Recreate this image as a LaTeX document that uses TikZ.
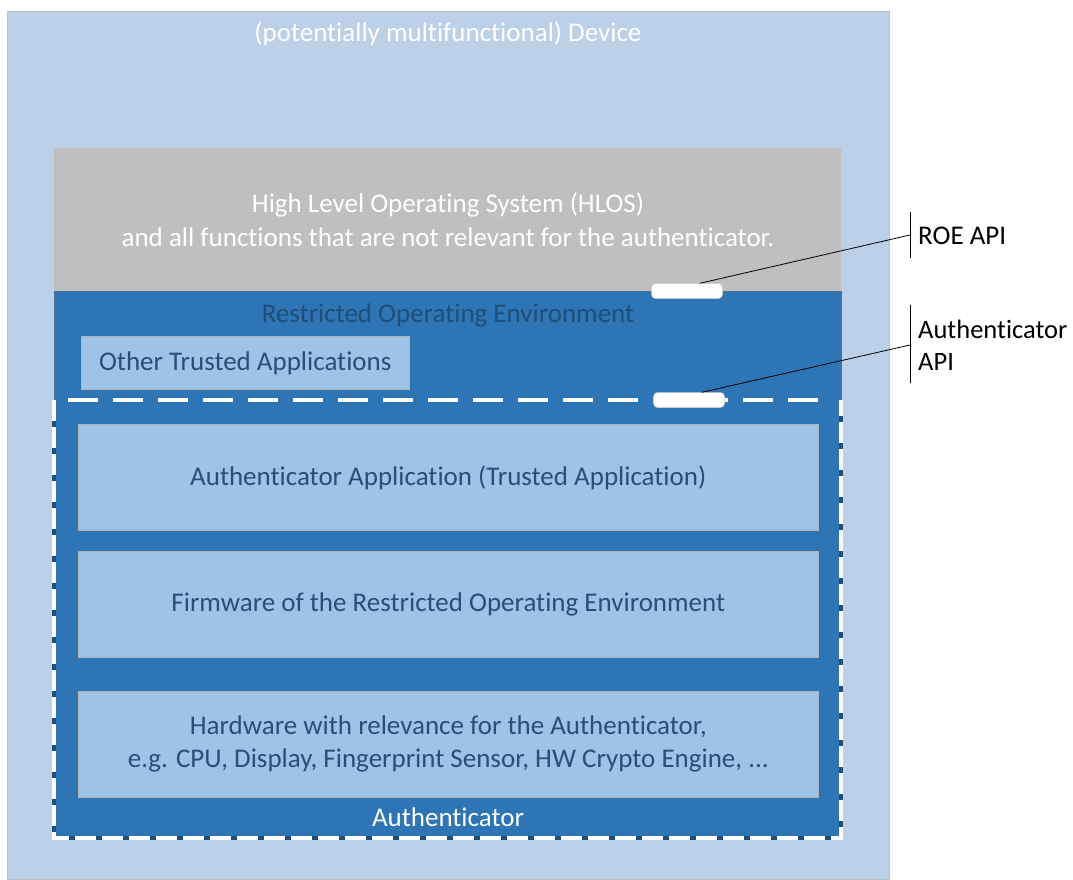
\documentclass[tikz,border=0pt]{standalone}
\usepackage{fontspec}
\setmainfont{Carlito}[Ligatures=NoCommon]
\definecolor{devblue}{HTML}{BCD0E8}
\definecolor{hlosgray}{HTML}{BFBFBF}
\definecolor{roeblue}{HTML}{2E75B6}
\definecolor{boxblue}{HTML}{9DC3E6}
\definecolor{boxtext}{HTML}{2B4C7C}
\definecolor{roetext}{HTML}{1F4E79}
\definecolor{navy}{HTML}{1F4E79}
\begin{document}
\begin{tikzpicture}[x=1pt,y=-1pt,
  txt/.style={font=\fontsize{27}{34}\selectfont, align=center, inner sep=0pt},
  layerbox/.style={fill=boxblue, draw=gray!60, line width=0.6pt},
  apicyl/.style={fill=white, draw=gray!40, line width=0.5pt, rounded corners=4pt, minimum width=71pt, minimum height=15pt, inner sep=0pt},
  leader/.style={draw=black, line width=0.8pt}]
\useasboundingbox (0,0) rectangle (1073,879);
% device
\fill[white] (0,0) rectangle (1073,879);
\path[fill=devblue, draw=gray!50, line width=0.6pt] (7,11) rectangle (889,879);
\node[txt, text=white] (devtitle) at (448,34) {(potentially multifunctional) Device};
% HLOS
\fill[hlosgray] (54,148) rectangle (841,291);
\node[txt, text=white] (hlos) at (448,220) {High Level Operating System (HLOS)\\and all functions that are not relevant for the authenticator.};
% ROE
\path[fill=roeblue, draw=navy!80, line width=0.6pt] (54,291) rectangle (841,838);
\node[txt, text=roetext] (roe) at (448,315) {Restricted Operating Environment};
\node[layerbox, minimum width=328pt, minimum height=53pt, anchor=north west, inner sep=0pt] (other) at (81,336) {};
\node[txt, text=boxtext] at (other.center) {Other Trusted Applications};
% Authenticator dashed border
\draw[navy, line width=3.4pt] (54,400) -- (54,838) -- (841,838) -- (841,400);
\draw[white, line width=3.4pt, dash pattern=on 21pt off 6pt] (54,400) -- (54,838) -- (841,838) -- (841,400);
\draw[white, line width=3.6pt, dash pattern=on 30pt off 15pt, dash phase=0pt] (68,400) -- (830,400);
% layers
\node[layerbox, minimum width=740pt, minimum height=106pt, anchor=north west] (app) at (78,424) {};
\node[txt, text=boxtext] at (app.center) {Authenticator Application (Trusted Application)};
\node[layerbox, minimum width=740pt, minimum height=106pt, anchor=north west] (fw) at (78,551) {};
\node[txt, text=boxtext] at (fw.center) {Firmware of the Restricted Operating Environment};
\node[layerbox, minimum width=740pt, minimum height=106pt, anchor=north west] (hw) at (78,691) {};
\node[txt, text=boxtext, font=\fontsize{27}{33}\selectfont] at (hw.center) {Hardware with relevance for the Authenticator,\\e.g. CPU, Display, Fingerprint Sensor, HW Crypto Engine, ...};
\node[txt, text=white] (authlbl) at (448,817) {Authenticator};
% APIs
\node[apicyl] (roeapi) at (687,291) {};
\node[apicyl] (authapi) at (689,400) {};
\coordinate (b1t) at (910,212);
\coordinate (b1b) at (910,258);
\coordinate (b1m) at (910,235);
\coordinate (b2t) at (910,305);
\coordinate (b2b) at (910,383);
\coordinate (b2m) at (910,345);
\draw[leader] (b1t) -- (b1b);
\draw[leader] (b2t) -- (b2b);
\draw[leader] ([xshift=13pt]roeapi.north) -- (b1m);
\draw[leader] ([xshift=13pt]authapi.north) -- (b2m);
\node[txt, anchor=west] (roeapilbl) at (918,236) {ROE API};
\node[txt, anchor=west, align=left, font=\fontsize{26.5}{32}\selectfont] (authapilbl) at (918,345) {Authenticator\\API};
\end{tikzpicture}
\end{document}
